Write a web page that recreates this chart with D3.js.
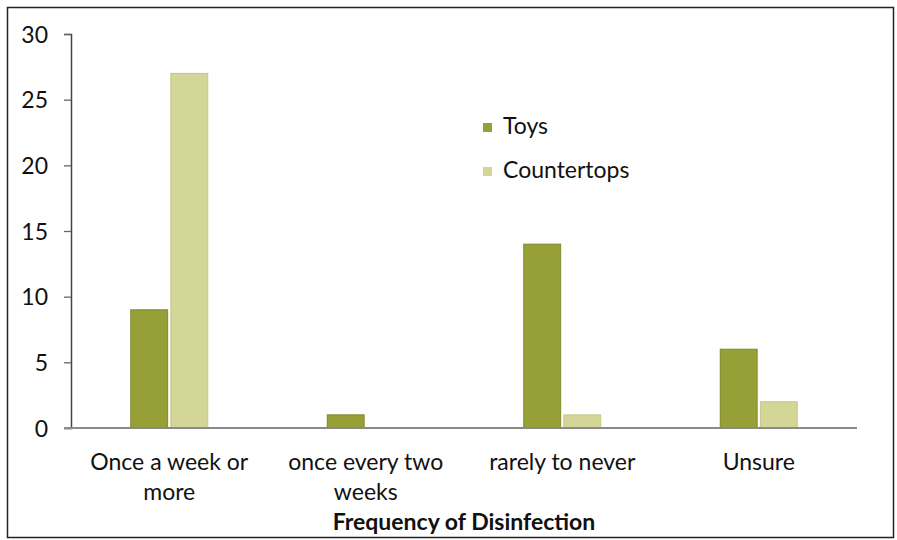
<!DOCTYPE html>
<html>
<head>
<meta charset="utf-8">
<script src="https://cdn.jsdelivr.net/npm/d3@7"></script>
<style>
  html, body { margin: 0; padding: 0; background: #fff; }
  svg { display: block; font-family: Lato, "Open Sans", "Liberation Sans", sans-serif; }
  .y-axis text { font-family: Lato, "Open Sans", sans-serif; font-size: 23px; }
</style>
</head>
<body>
<svg id="chart" width="897" height="540"></svg>
<script>
// Disinfection frequency survey: counts per answer for two surfaces
const categories = [["Once a week or", "more"], ["once every two", "weeks"], ["rarely to never"], ["Unsure"]];
const seriesNames = ["Toys", "Countertops"];
const toys = [9, 1, 14, 6];
const countertops = [27, 0, 1, 2];
const yTicks = [0, 5, 10, 15, 20, 25, 30];
const xTitle = "Frequency of Disinfection";

const colors = { Toys: "#96a036", Countertops: "#d3d697" };
const edges = { Toys: "#7f8a2a", Countertops: "#c4c789" };

const svg = d3.select("#chart");

// outer frame
svg.append("rect")
  .attr("x", 7.5).attr("y", 7.5)
  .attr("width", 886).attr("height", 530)
  .attr("fill", "#fff").attr("stroke", "#222").attr("stroke-width", 1.5);

const plotLeft = 71, plotRight = 857, plotTop = 34, plotBottom = 428;

const x = d3.scaleBand()
  .domain(d3.range(categories.length))
  .range([plotLeft, plotRight]);

const inner = d3.scaleBand()
  .domain(seriesNames)
  .range([0, 77])
  .paddingInner(0.08);

const y = d3.scaleLinear().domain([0, 30]).range([plotBottom, plotTop]);

const data = seriesNames.map(name => ({
  name,
  values: name === "Toys" ? toys : countertops
}));

// bars
const groups = svg.append("g").selectAll("g")
  .data(data)
  .join("g")
  .attr("fill", d => colors[d.name])
  .attr("stroke", d => edges[d.name])
  .attr("stroke-width", 1);

groups.selectAll("rect")
  .data(d => d.values.map((v, i) => ({ v, i, name: d.name })).filter(e => e.v > 0))
  .join("rect")
  .attr("x", d => x(d.i) + x.bandwidth() / 2 - 38.5 + inner(d.name))
  .attr("y", d => y(d.v))
  .attr("width", inner.bandwidth())
  .attr("height", d => y(0) - y(d.v));

// y axis
const yAxis = svg.append("g")
  .attr("class", "y-axis")
  .attr("transform", `translate(${plotLeft},0)`)
  .call(d3.axisLeft(y).tickValues(yTicks).tickSize(7).tickPadding(16));
yAxis.select(".domain").attr("stroke", "#444").attr("stroke-width", 1.5);
yAxis.selectAll(".tick line").attr("stroke", "#666").attr("stroke-width", 1.3);
yAxis.selectAll(".tick text")
  .attr("fill", "#111")
  .attr("dy", "0.36em");

// x axis line
svg.append("line")
  .attr("x1", plotLeft - 7).attr("x2", plotRight)
  .attr("y1", y(0)).attr("y2", y(0))
  .attr("stroke", "#8a8a8a").attr("stroke-width", 2);

// category labels
const catLabels = svg.append("g").selectAll("text")
  .data(categories)
  .join("text")
  .attr("text-anchor", "middle")
  .attr("font-size", 23)
  .attr("fill", "#111")
  .attr("x", (d, i) => x(i) + x.bandwidth() / 2)
  .attr("y", 470);
catLabels.selectAll("tspan")
  .data(d => d)
  .join("tspan")
  .attr("x", function () { return d3.select(this.parentNode).attr("x"); })
  .attr("dy", (d, i) => i === 0 ? 0 : 30)
  .text(d => d);

// axis title
svg.append("text")
  .attr("x", (plotLeft + plotRight) / 2)
  .attr("y", 530)
  .attr("text-anchor", "middle")
  .attr("font-size", 23)
  .attr("font-weight", "bold")
  .attr("fill", "#111")
  .text(xTitle);

// legend
const legend = svg.append("g").selectAll("g")
  .data(seriesNames)
  .join("g")
  .attr("transform", (d, i) => `translate(483,${123 + i * 44})`);
legend.append("rect")
  .attr("width", 9).attr("height", 9)
  .attr("fill", d => colors[d]);
legend.append("text")
  .attr("x", 20).attr("y", 11)
  .attr("font-size", 23).attr("fill", "#111")
  .text(d => d);
</script>
</body>
</html>
